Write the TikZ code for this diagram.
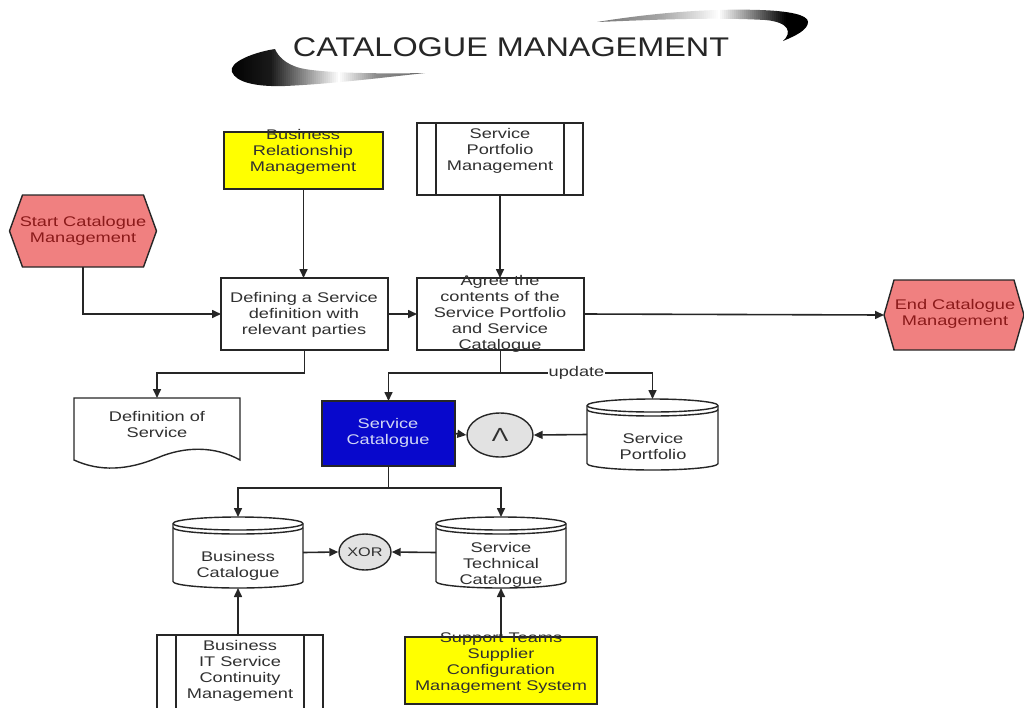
\documentclass[tikz,border=0pt]{standalone}
\usepackage{fontspec}
\newfontfamily\bodyfont{Liberation Sans}[FakeStretch=1.3]
\newfontfamily\headfont{Liberation Sans}[FakeStretch=1.2]
\usetikzlibrary{arrows.meta,shapes.geometric}
\definecolor{linec}{HTML}{262626}
\definecolor{txt}{HTML}{303030}
\definecolor{evtfill}{HTML}{F08080}
\definecolor{evttxt}{HTML}{8B1A1A}
\definecolor{funcyellow}{HTML}{FFFF00}
\definecolor{catblue}{HTML}{0808CC}
\definecolor{cattxt}{HTML}{D0D6F5}
\definecolor{conngrey}{HTML}{E2E2E2}

% database cylinder: x-left, x-right, y-top, y-bottom
\newcommand\dbcyl[4]{%
  \pgfmathsetmacro\cylrx{(#2-#1)/2}%
  \filldraw[shapeline, fill=white] (#1,#3+6.5) -- (#1,#4-6.5)
    arc[start angle=180, end angle=360, x radius=\cylrx pt, y radius=6.5pt]
    -- (#2,#3+6.5)
    arc[start angle=0, end angle=180, x radius=\cylrx pt, y radius=6.5pt] -- cycle;
  \draw[shapeline] (#1,#3+6.5)
    arc[start angle=180, end angle=360, x radius=\cylrx pt, y radius=6.5pt];
  \draw[shapeline] (#1,#3+10.5)
    arc[start angle=180, end angle=360, x radius=\cylrx pt, y radius=6.5pt];
}

\begin{document}
\begin{tikzpicture}[x=1pt,y=-1pt,
  geom/.style={rectangle, inner sep=0pt, outer sep=0pt},
  lbl/.style={align=center, text=txt, font=\bodyfont\fontsize{14}{16}\selectfont, inner sep=0pt},
  shapeline/.style={draw=linec, line width=1.4pt},
  boxed/.style={geom, shapeline},
  edge/.style={draw=linec, line width=1.6pt},
  flow/.style={edge, -{Triangle[length=9pt,width=8pt]}},
  conn/.style={ellipse, draw=linec, line width=1.4pt, fill=conngrey, inner sep=0pt}
]
\useasboundingbox (0,0) rectangle (1024,707);

% ---- heading with swooshes (gradient built from thin strips) ----
\begin{scope}
  \clip (275,49) .. controls (255,52) and (228,62) .. (232,72)
    .. controls (236,82) and (255,87) .. (285,86)
    .. controls (330,84) and (380,78) .. (425,73)
    .. controls (380,74) and (320,73) .. (300,68)
    .. controls (285,64) and (278,56) .. (275,49) -- cycle;
  \foreach \xx in {228,230,...,428} {
    \pgfmathsetmacro\kk{(\xx<270) ? 100-10*(\xx-228)/42 :
      ((\xx<338) ? 90-90*(\xx-270)/68 :
      ((\xx<375) ? 45*(\xx-338)/37 : 45+15*(\xx-375)/53))}
    \pgfmathsetmacro\kk{max(0,min(100,\kk))}
    \fill[black!\kk] (\xx,40) rectangle (\xx+2.3,95);
  }
\end{scope}
\begin{scope}
  \clip (597,22) .. controls (640,15) and (700,8) .. (760,10)
    .. controls (790,11) and (808,15) .. (808,22)
    .. controls (808,30) and (795,36) .. (783,41)
    .. controls (792,33) and (790,22) .. (765,20)
    .. controls (710,17) and (650,20) .. (597,22) -- cycle;
  \foreach \xx in {594,596,...,810} {
    \pgfmathsetmacro\kk{(\xx<660) ? 55-20*(\xx-594)/66 :
      ((\xx<718) ? 35-35*(\xx-660)/58 :
      ((\xx<785) ? 100*(\xx-718)/67 : 100))}
    \pgfmathsetmacro\kk{max(0,min(100,\kk))}
    \fill[black!\kk] (\xx,5) rectangle (\xx+2.3,45);
  }
\end{scope}
\node[font=\headfont\fontsize{27}{30}\selectfont, text=black!85, inner sep=0pt] (title) at (511,47) {CATALOGUE MANAGEMENT};

% ---- shapes ----
\node[geom, minimum width=147pt, minimum height=72pt] (start) at (83,231) {};
\filldraw[shapeline, fill=evtfill] ([xshift=13pt]start.north west) -- ([xshift=-13pt]start.north east)
  -- (start.east) -- ([xshift=-13pt]start.south east) -- ([xshift=13pt]start.south west)
  -- (start.west) -- cycle;

\node[geom, minimum width=140pt, minimum height=70pt] (end) at (954,315) {};
\filldraw[shapeline, fill=evtfill] ([xshift=10pt]end.north west) -- ([xshift=-10pt]end.north east)
  -- (end.east) -- ([xshift=-10pt]end.south east) -- ([xshift=10pt]end.south west)
  -- (end.west) -- cycle;

\node[boxed, fill=funcyellow, minimum width=159pt, minimum height=57pt] (brm) at (303.5,160.5) {};
\node[boxed, fill=white, minimum width=166pt, minimum height=72pt] (spm) at (500,159) {};
\draw[shapeline] ([xshift=19pt]spm.north west) -- ([xshift=19pt]spm.south west);
\draw[shapeline] ([xshift=-19pt]spm.north east) -- ([xshift=-19pt]spm.south east);

\node[boxed, fill=white, minimum width=167pt, minimum height=72pt] (def) at (304.5,314) {};
\node[boxed, fill=white, minimum width=167pt, minimum height=72pt] (agree) at (500.5,314) {};

\node[geom, minimum width=166pt, minimum height=62pt] (doc) at (157,429) {};
\filldraw[shapeline, fill=white] (doc.north west) -- (doc.north east) -- (240,460)
  .. controls (215,446) and (185,446) .. (157,458)
  .. controls (128,470) and (100,472) .. (74,460) -- cycle;

\node[boxed, fill=catblue, minimum width=133pt, minimum height=65pt] (sc) at (388.5,433.5) {};

\node[geom, minimum width=131pt, minimum height=71pt] (sp) at (652.5,434.5) {};
\dbcyl{587}{718}{399}{470}

\node[geom, minimum width=130pt, minimum height=71pt] (bc) at (238,552.5) {};
\dbcyl{173}{303}{517}{588}
\node[geom, minimum width=130pt, minimum height=71pt] (stc) at (501,552.5) {};
\dbcyl{436}{566}{517}{588}

\node[conn, minimum width=66pt, minimum height=44pt, font=\bodyfont\fontsize{19}{19}\selectfont, text=txt] (and) at (500,435) {Λ};
\node[conn, minimum width=52pt, minimum height=36pt, font=\bodyfont\fontsize{12.5}{14}\selectfont, text=txt] (xor) at (365,552) {XOR};

\node[boxed, fill=white, minimum width=166pt, minimum height=76pt] (bitscm) at (240,673) {};
\draw[shapeline] ([xshift=19pt]bitscm.north west) -- ([xshift=19pt]bitscm.south west);
\draw[shapeline] ([xshift=-19pt]bitscm.north east) -- ([xshift=-19pt]bitscm.south east);

\node[boxed, fill=funcyellow, minimum width=192pt, minimum height=67pt] (sup) at (501,670.5) {};

% ---- labels ----
\node[lbl, text=evttxt] at (83,231) {Start Catalogue\\Management};
\node[lbl, text=evttxt] at (955,314) {End Catalogue\\Management};
\node[lbl] at (303,152) {Business\\Relationship\\Management};
\node[lbl] at (500,151) {Service\\Portfolio\\Management};
\node[lbl] at (304,315) {Defining a Service\\definition with\\relevant parties};
\node[lbl] at (500,314) {Agree the\\contents of the\\Service Portfolio\\and Service\\Catalogue};
\node[lbl] at (157,424) {Definition of\\Service};
\node[lbl, text=cattxt] at (388,433) {Service\\Catalogue};
\node[lbl] at (653,446) {Service\\Portfolio};
\node[lbl] at (238,566) {Business\\Catalogue};
\node[lbl] at (501,565) {Service\\Technical\\Catalogue};
\node[lbl] at (240,671) {Business\\IT Service\\Continuity\\Management};
\node[lbl] at (501,663) {Support Teams\\Supplier\\Configuration\\Management System};

% ---- connectors ----
\draw[flow] (brm.south) -- (brm.south |- def.north);
\draw[flow] (start.south) |- (def.west);
\draw[flow] (def.east) -- (agree.west);
\draw[flow] (spm.south) -- (spm.south |- agree.north);
\draw[flow] (agree.east) -- (end.west);
\draw[flow] (def.south) -- ++(0,23) -| (doc.north);

\path (agree.south) ++(0,23) coordinate (split);
\draw[flow] (agree.south) -- (split) -| (sc.north);
\draw[flow] (split) -- node[lbl, fill=white, inner xsep=1pt] {update} (split -| sp.north) -- (sp.north);

\draw[flow] (sc.east) -- (and.west);
\draw[flow] (sp.west) -- (and.east);

\path (sc.south) ++(0,22) coordinate (fork);
\draw[flow] (sc.south) -- (fork) -| (bc.north);
\draw[flow] (fork) -| (stc.north);

\draw[flow] (bc.east) -- (xor.west);
\draw[flow] (stc.west) -- (xor.east);

\draw[flow] (bc.south |- bitscm.north) -- (bc.south);
\draw[flow] (sup.north) -- (stc.south);
\end{tikzpicture}
\end{document}
